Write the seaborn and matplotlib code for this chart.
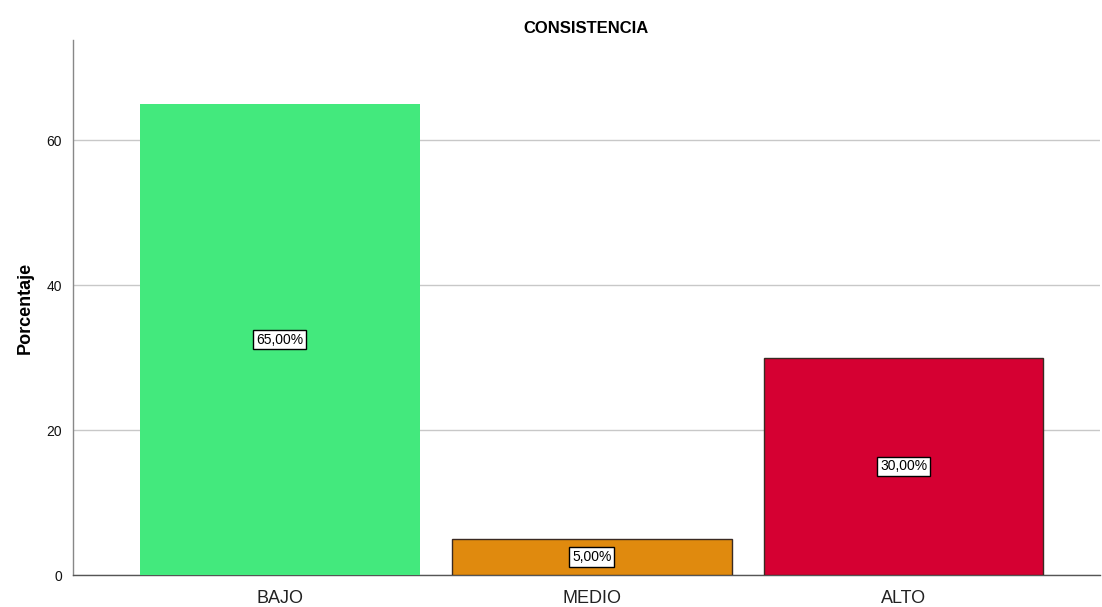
import matplotlib
matplotlib.use("Agg")
import matplotlib.pyplot as plt
import seaborn as sns
import pandas as pd

categories = ["BAJO", "MEDIO", "ALTO"]
values = [65.0, 5.0, 30.0]
labels = ["65,00%", "5,00%", "30,00%"]
colors = ["#43E97D", "#E08A0E", "#D50032"]
yticks = [0, 20, 40, 60]

sns.set_style("white")
plt.rcParams['font.family'] = ['Liberation Sans', 'DejaVu Sans']

df = pd.DataFrame({"cat": categories, "val": values})

fig = plt.figure(figsize=(11.02, 6.07), dpi=100)
ax = fig.add_axes([0.0662, 0.0527, 0.932, 0.881])

sns.barplot(data=df, x="cat", y="val", hue="cat", palette=colors, width=0.897,
            saturation=1, legend=False, ax=ax, zorder=3)
for i, p in enumerate(ax.patches):
    if i == 0:
        p.set_edgecolor(colors[0])
        p.set_linewidth(0)
    else:
        p.set_edgecolor("#3a2a22")
        p.set_linewidth(1.0)

for i, (v, lab) in enumerate(zip(values, labels)):
    ax.text(i, v / 2, lab, ha="center", va="center", fontsize=10, color="black", zorder=5,
            bbox=dict(boxstyle="square,pad=0.2", facecolor="white", edgecolor="black", linewidth=1.0))

ax.set_ylim(0, 73.8)
ax.set_xlim(-0.663, 2.63)
ax.set_yticks(yticks)
ax.yaxis.grid(True, color="#c8c8c8", linewidth=1.0, zorder=0)
ax.set_axisbelow(True)
ax.tick_params(axis="y", labelsize=10, length=0, pad=8, labelcolor="#111111")
ax.tick_params(axis="x", labelsize=13, length=0, pad=11, labelcolor="#222222")
ax.set_xlabel("")
ax.set_ylabel("Porcentaje", fontsize=13, fontweight="bold", labelpad=9, color="black")
ax.set_title("CONSISTENCIA", fontsize=12, fontweight="bold", pad=5, color="black")

for s in ["top", "right"]:
    ax.spines[s].set_visible(False)
ax.spines["left"].set_color("#888888")
ax.spines["bottom"].set_color("#555555")
ax.spines["left"].set_linewidth(1.0)
ax.spines["bottom"].set_linewidth(1.0)

fig.savefig("out.png", dpi=100)
